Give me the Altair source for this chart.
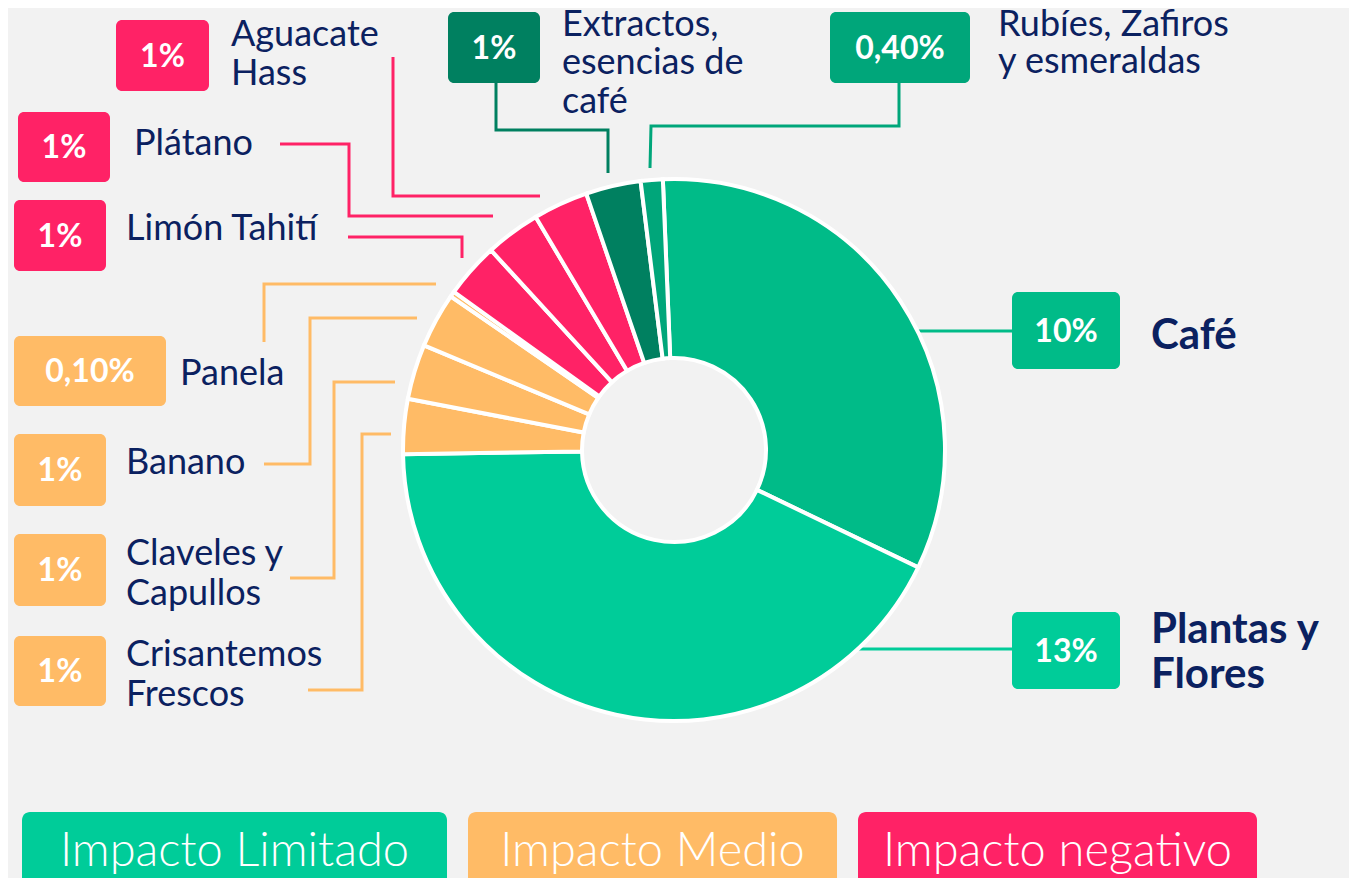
import altair as alt
import pandas as pd

# ---------------- data ----------------
categories = ["Café", "Plantas y Flores", "Crisantemos Frescos", "Claveles y Capullos",
              "Banano", "Panela", "Limón Tahití", "Plátano", "Aguacate Hass",
              "Extractos, esencias de café", "Rubíes, Zafiros y esmeraldas"]
values = [10, 13, 1, 1, 1, 0.1, 1, 1, 1, 1, 0.4]
pct_labels = ["10%", "13%", "1%", "1%", "1%", "0,10%", "1%", "1%", "1%", "1%", "0,40%"]
name_lines = [["Café"], ["Plantas y", "Flores"], ["Crisantemos", "Frescos"],
              ["Claveles y", "Capullos"], ["Banano"], ["Panela"], ["Limón Tahití"],
              ["Plátano"], ["Aguacate", "Hass"], ["Extractos,", "esencias de", "café"],
              ["Rubíes, Zafiros", "y esmeraldas"]]
legend_labels = ["Impacto Limitado", "Impacto Medio", "Impacto negativo"]

# ---------------- style / layout ----------------
GREEN_D = "#00BB88"
GREEN_L = "#00CC99"
GREEN_X = "#008060"
GREEN_R = "#00A67A"
ORANGE = "#FFBB66"
PINK = "#FF2266"
NAVY = "#0B2160"
BG = "#F2F2F2"
FONT = "Lato"

slice_colors = [GREEN_D, GREEN_L, ORANGE, ORANGE, ORANGE, ORANGE, PINK, PINK, PINK, GREEN_X, GREEN_R]
legend_colors = [GREEN_L, ORANGE, PINK]

W, H = 1341, 870
OFF = 8  # page margin: data coordinates are page pixels
CX, CY = 674, 450
R_IN, R_OUT = 92, 271
START = -0.0412  # radians

# label boxes (x1, x2, y1, y2) in page pixels
boxes = [(1012, 1120, 292, 369), (1012, 1120, 612, 689), (14, 106, 636, 706),
         (14, 106, 534, 606), (14, 106, 434, 506), (14, 166, 336, 406),
         (14, 106, 200, 271), (18, 110, 112, 182), (116, 209, 20, 91),
         (448, 540, 12, 83), (830, 970, 12, 83)]
name_x = [1151, 1151, 126, 126, 126, 180, 126, 134, 231, 562, 998]
name_y = [[349], [643, 688], [666, 706], [565, 605], [474], [385], [240], [155],
          [46, 85], [36, 74, 113], [36, 73]]
name_bold = [True, True] + [False] * 9
leader_pts = [
    [(917, 331), (1012, 331)],
    [(855, 649), (1012, 649)],
    [(391, 434), (362, 434), (362, 690), (308, 690)],
    [(395, 382), (334, 382), (334, 578), (290, 578)],
    [(417, 318), (310, 318), (310, 464), (264, 464)],
    [(436, 284), (264, 284), (264, 342)],
    [(348, 237), (462, 237), (462, 258)],
    [(280, 144), (349, 144), (349, 216), (493, 216)],
    [(393, 57), (393, 196), (540, 196)],
    [(496, 83), (496, 130), (608, 130), (608, 173)],
    [(899, 83), (899, 126), (651, 126), (650, 168)],
]
legend_boxes = [(22, 447), (468, 837), (858, 1257)]
LEG_Y1, LEG_Y2, LEG_BASE = 812, 900, 866

# ---------------- tables ----------------
slices = pd.DataFrame({"cat": categories, "value": values,
                       "idx": list(range(len(categories))), "color": slice_colors})

box_df = pd.DataFrame({
    "cat": categories,
    "x1": [b[0] for b in boxes], "x2": [b[1] for b in boxes],
    "y1": [b[2] for b in boxes], "y2": [b[3] for b in boxes],
    "cx": [(b[0] + b[1]) / 2 for b in boxes], "cy": [(b[2] + b[3]) / 2 + 1 for b in boxes],
    "pct": pct_labels, "color": slice_colors,
})

name_rows = []
for i, lines in enumerate(name_lines):
    for j, t in enumerate(lines):
        name_rows.append({"text": t, "x": name_x[i], "y": name_y[i][j], "bold": name_bold[i]})
name_df = pd.DataFrame(name_rows)

line_rows = []
for i, pts in enumerate(leader_pts):
    for k, (px, py) in enumerate(pts):
        line_rows.append({"cat": categories[i], "seq": k, "x": px, "y": py, "color": slice_colors[i]})
line_df = pd.DataFrame(line_rows)

leg_df = pd.DataFrame({
    "label": legend_labels, "color": legend_colors,
    "x1": [b[0] for b in legend_boxes], "x2": [b[1] for b in legend_boxes],
    "cx": [(b[0] + b[1]) / 2 for b in legend_boxes],
    "y1": [LEG_Y1] * 3, "y2": [LEG_Y2] * 3, "yb": [LEG_BASE] * 3,
})

xs = alt.Scale(domain=[OFF, OFF + W], nice=False, zero=False)
ys = alt.Scale(domain=[OFF, OFF + H], nice=False, zero=False, reverse=True)

donut = alt.Chart(slices).mark_arc(
    innerRadius=R_IN, outerRadius=R_OUT, stroke="#FFFFFF", strokeWidth=4
).encode(
    theta=alt.Theta("value:Q", stack=True,
                    scale=alt.Scale(range=[START, START + 6.283185307])),
    order=alt.Order("idx:Q"),
    color=alt.Color("color:N", scale=None),
    x=alt.value(CX - OFF), y=alt.value(CY - OFF),
)

leaders = alt.Chart(line_df).mark_line(strokeWidth=3, interpolate="linear").encode(
    x=alt.X("x:Q", scale=xs, axis=None),
    y=alt.Y("y:Q", scale=ys, axis=None),
    detail="cat:N", order="seq:Q",
    color=alt.Color("color:N", scale=None),
)

rects = alt.Chart(box_df).mark_rect(cornerRadius=6).encode(
    x=alt.X("x1:Q", scale=xs, axis=None), x2="x2:Q",
    y=alt.Y("y1:Q", scale=ys, axis=None), y2="y2:Q",
    color=alt.Color("color:N", scale=None),
)

pct_text = alt.Chart(box_df).mark_text(
    font=FONT, fontSize=32, fontWeight="bold", color="#FFFFFF",
    align="center", baseline="middle"
).encode(
    x=alt.X("cx:Q", scale=xs, axis=None), y=alt.Y("cy:Q", scale=ys, axis=None), text="pct:N"
)

names_reg = alt.Chart(name_df[~name_df["bold"]]).mark_text(
    font=FONT, fontSize=36, color=NAVY, align="left", baseline="alphabetic"
).encode(
    x=alt.X("x:Q", scale=xs, axis=None), y=alt.Y("y:Q", scale=ys, axis=None), text="text:N"
)
names_bold = alt.Chart(name_df[name_df["bold"]]).mark_text(
    font=FONT, fontSize=42, fontWeight="bold", color=NAVY, align="left", baseline="alphabetic"
).encode(
    x=alt.X("x:Q", scale=xs, axis=None), y=alt.Y("y:Q", scale=ys, axis=None), text="text:N"
)

leg_rect = alt.Chart(leg_df).mark_rect(cornerRadius=8).encode(
    x=alt.X("x1:Q", scale=xs, axis=None), x2="x2:Q",
    y=alt.Y("y1:Q", scale=ys, axis=None), y2="y2:Q",
    color=alt.Color("color:N", scale=None),
)
leg_text = alt.Chart(leg_df).mark_text(
    font=FONT, fontSize=47, fontWeight=300, color="#FFFFFF",
    align="center", baseline="alphabetic"
).encode(
    x=alt.X("cx:Q", scale=xs, axis=None), y=alt.Y("yb:Q", scale=ys, axis=None), text="label:N"
)

chart = alt.layer(
    leaders, donut, rects, pct_text, names_reg, names_bold, leg_rect, leg_text
).properties(
    width=W, height=H, padding=0,
    autosize=alt.AutoSizeParams(type="none"),
    background=BG,
).configure_view(stroke=None)

chart.save("out.html", embed_options={"renderer": "svg", "actions": False})
